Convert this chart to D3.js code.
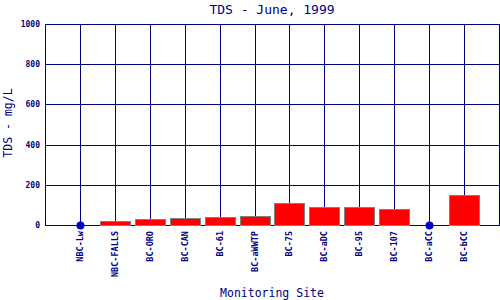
<!DOCTYPE html>
<html><head><meta charset="utf-8">
<script src="https://cdn.jsdelivr.net/npm/d3@7"></script>
<style>body{margin:0;background:#fff}svg{display:block}text{font-family:"DejaVu Sans Mono","Liberation Mono",monospace;fill:#000080}</style>
</head><body>
<svg id="c" width="500" height="300"></svg>
<script>
const categories = ["NBC-Lw","NBC-FALLS","BC-ORO","BC-CAN","BC-61","BC-aWWTP","BC-75","BC-aDC","BC-95","BC-107","BC-aCC","BC-bCC"];
const values = [0,20,30,35,40,45,110,90,90,80,0,150];
const yTicks = [0,200,400,600,800,1000];

const svg = d3.select("#c");
const L = 45, R = 499, T = 24, B = 225;
const navy = "#000080";
const x = d3.scalePoint().domain(categories).range([L, R]).padding(1);
const y = d3.scaleLinear().domain([0,1000]).range([B, T]);
const crisp = v => Math.round(v) + 0.5;

// horizontal grid
svg.append("g").selectAll("line").data(yTicks).join("line")
  .attr("x1", L).attr("x2", R + 1).attr("y1", d=>crisp(y(d))).attr("y2", d=>crisp(y(d)))
  .attr("stroke", navy).attr("stroke-width", 1);
// vertical grid at category centers + edges
const vx = [L].concat(categories.map(c=>x(c))).concat([R]);
svg.append("g").selectAll("line").data(vx).join("line")
  .attr("x1", d=>crisp(d)).attr("x2", d=>crisp(d)).attr("y1", T).attr("y2", B)
  .attr("stroke", navy).attr("stroke-width", 1);

// bars
const data = categories.map((c,i)=>({c, v: values[i]}));
svg.append("g").selectAll("rect").data(data.filter(d=>d.v>0)).join("rect")
  .attr("x", d=>Math.round(x(d.c))-14.5).attr("width", 30)
  .attr("y", d=>crisp(y(d.v))).attr("height", d=>crisp(B) - crisp(y(d.v)))
  .attr("fill", "#ff0000").attr("stroke", "#808080").attr("stroke-width", 1);
// zero points
svg.append("g").selectAll("circle").data(data.filter(d=>d.v===0)).join("circle")
  .attr("cx", d=>crisp(x(d.c))).attr("cy", d=>crisp(y(d.v))).attr("r", 4).attr("fill", "#0000cc");

// y tick labels
svg.append("g").selectAll("text").data(yTicks).join("text")
  .attr("x", 40).attr("y", d=>y(d)+3).attr("text-anchor","end")
  .attr("font-size", 8).attr("font-weight","bold").text(d=>d);

// x labels
svg.append("g").selectAll("text").data(categories).join("text")
  .attr("transform", d=>`translate(${x(d)+3},231) rotate(-90)`)
  .attr("text-anchor","end").attr("font-size", 8.5).attr("font-weight","bold").text(d=>d);

// titles
svg.append("text").attr("x", 272).attr("y", 14).attr("text-anchor","middle")
  .attr("font-size", 13).text("TDS - June, 1999");
svg.append("text").attr("x", 272).attr("y", 297).attr("text-anchor","middle")
  .attr("font-size", 11.5).text("Monitoring Site");
svg.append("text").attr("transform","translate(12,123) rotate(-90)").attr("text-anchor","middle")
  .attr("font-size", 11.5).text("TDS - mg/L");
</script>
</body></html>
